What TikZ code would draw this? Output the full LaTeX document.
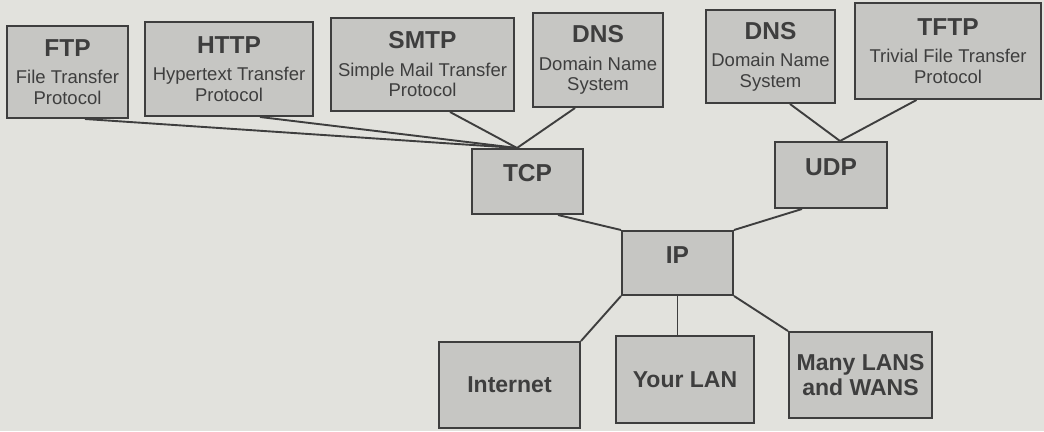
\documentclass[tikz,border=0pt]{standalone}
\usepackage{fontspec}
\setmainfont{Liberation Sans}
\usetikzlibrary{calc}
\definecolor{paper}{RGB}{226,226,221}
\definecolor{boxfill}{RGB}{198,198,195}
\definecolor{ink}{RGB}{62,62,62}
\newcommand\titlefont{\fontsize{24.5}{26}\selectfont\bfseries}
\newcommand\descfont{\fontsize{18.5}{20.5}\selectfont}
\newcommand\netfont{\fontsize{23}{25}\selectfont\bfseries}

\begin{document}
\begin{tikzpicture}[x=1pt, y=-1pt,
   box/.style={rectangle, draw=ink, fill=boxfill, line width=2pt, text=ink, inner sep=0pt, align=center},
   proto/.style={box, font=\descfont},
   layer/.style={box, font=\titlefont, text height=0pt, text depth=0pt},
   net/.style={box, font=\netfont},
   link/.style={draw=ink, line width=1.9pt}]
   \fill[paper] (0,0) rectangle (1044,431);
   \useasboundingbox (0,0) rectangle (1044,431);
   \node[proto, minimum width=121pt, minimum height=92pt] (ftp) at (67.5,72) {{\titlefont FTP}\\[7pt]File Transfer\\Protocol};
   \node[proto, minimum width=168pt, minimum height=94pt] (http) at (229,69) {{\titlefont HTTP}\\[7pt]Hypertext Transfer\\Protocol};
   \node[proto, minimum width=183pt, minimum height=93pt] (smtp) at (422.5,64.5) {{\titlefont SMTP}\\[7pt]Simple Mail Transfer\\Protocol};
   \node[proto, minimum width=130pt, minimum height=94pt] (dnstcp) at (598,60) {{\titlefont DNS}\\[7pt]Domain Name\\System};
   \node[proto, minimum width=129pt, minimum height=93pt] (dnsudp) at (770.5,56.5) {{\titlefont DNS}\\[7pt]Domain Name\\System};
   \node[proto, minimum width=186pt, minimum height=96pt] (tftp) at (948,51) {{\titlefont TFTP}\\[7pt]Trivial File Transfer\\Protocol};
   \node[layer, minimum width=111pt, minimum height=65pt] (tcp) at (527.5,181.5) {TCP};
   \node[layer, minimum width=112pt, minimum height=66pt] (udp) at (831,175) {UDP};
   \node[layer, minimum width=111pt, minimum height=64pt] (ip) at (677.5,263) {IP};
   \node[net, minimum width=141pt, minimum height=86pt] (internet) at (509.5,385) {Internet};
   \node[net, minimum width=138pt, minimum height=87pt] (lan) at (685,379.5) {Your LAN};
   \node[net, minimum width=143pt, minimum height=86pt] (wans) at (860.5,375) {Many LANS\\and WANS};
   \coordinate (tcpin) at ($(tcp.north)+(-10.5,0)$);
   \coordinate (udpin) at ($(udp.north)+(9,0)$);
   \draw[link] ($(ftp.south)+(17.5,0)$) -- (tcpin);
   \draw[link] ($(http.south)+(31,0)$) -- (tcpin);
   \draw[link] ($(smtp.south)+(27.5,0)$) -- (tcpin);
   \draw[link] ($(dnstcp.south)+(-23,0)$) -- (tcpin);
   \draw[link] ($(dnsudp.south)+(19.5,0)$) -- (udpin);
   \draw[link] ($(tftp.south)+(-31.5,0)$) -- (udpin);
   \draw[link] ($(tcp.south)+(30.5,0)$) -- (ip.north west);
   \draw[link] ($(udp.south)+(-29,0)$) -- (ip.north east);
   \draw[link] (ip.south west) -- (internet.north east);
   \draw[link] (ip.south) -- (ip.south |- lan.north);
   \draw[link] (ip.south east) -- (wans.north west);
\end{tikzpicture}
\end{document}
